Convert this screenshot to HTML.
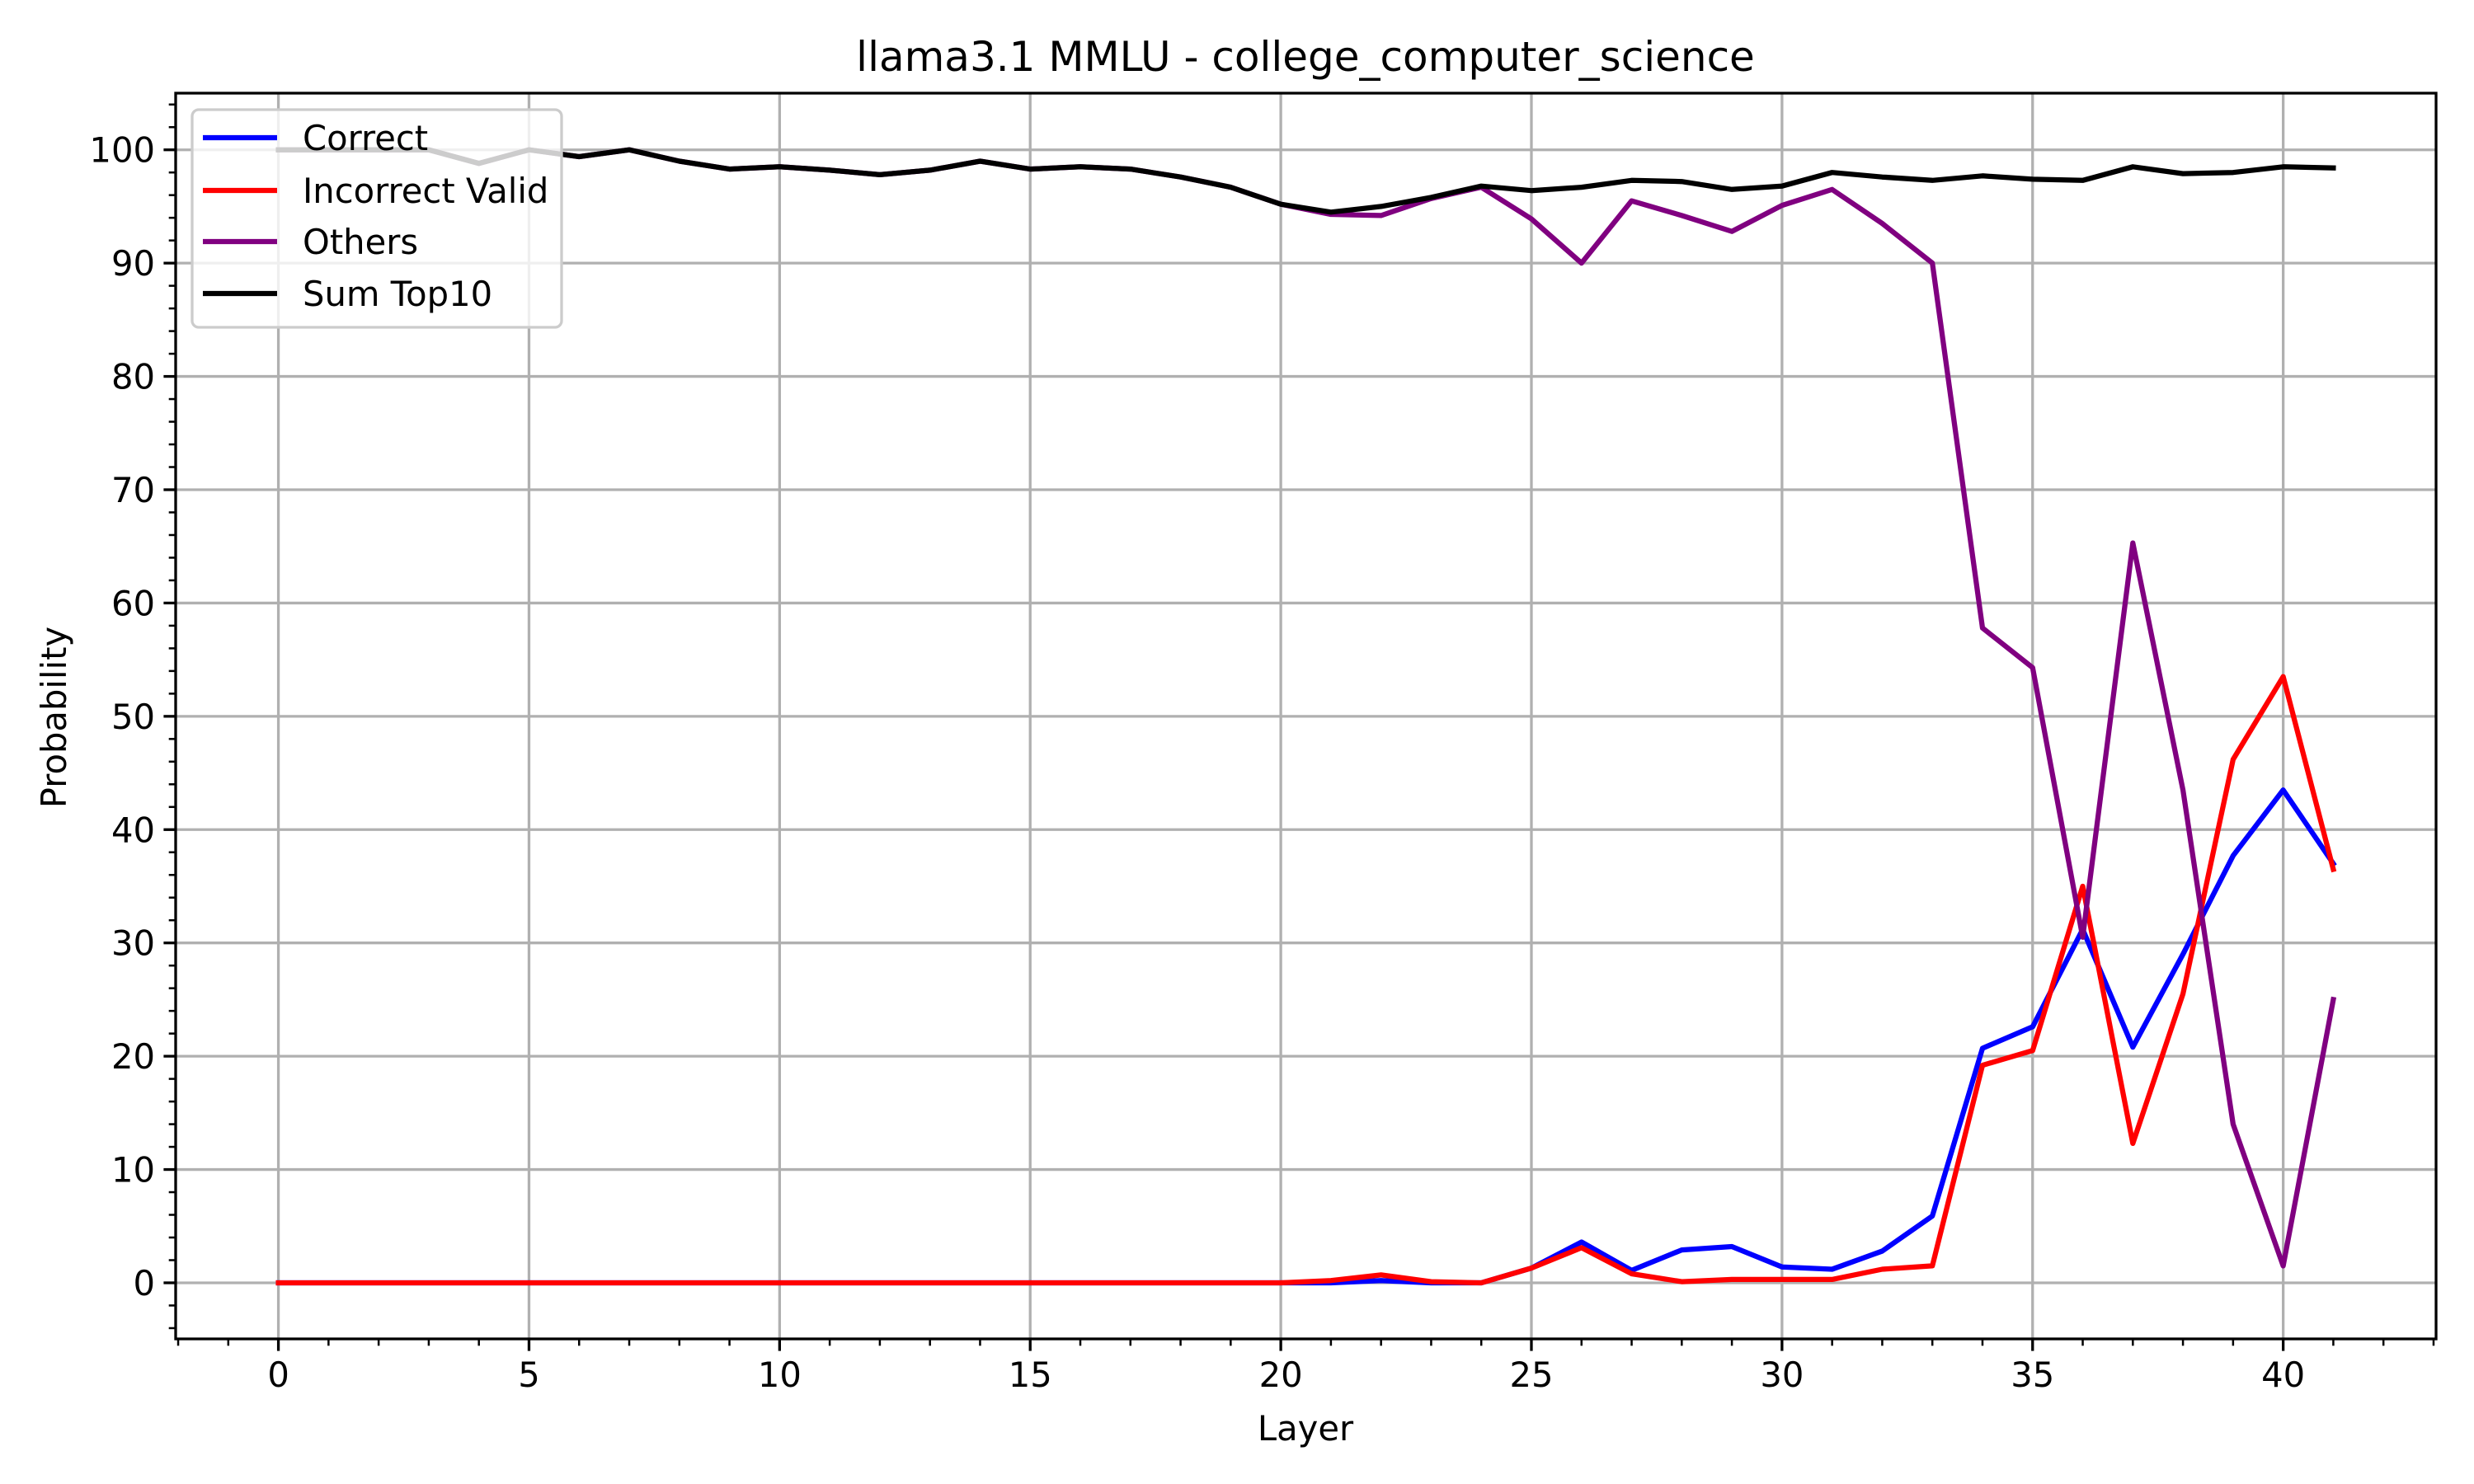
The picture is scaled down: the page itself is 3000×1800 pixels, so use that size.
<!DOCTYPE html>
<html><head><meta charset="utf-8"><style>
body{margin:0;background:#fff;}
svg{display:block;font-family:"DejaVu Sans","Liberation Sans",sans-serif;}
</style></head><body>
<svg id="chart" width="3000" height="1800" viewBox="0 0 3000 1800">
<rect width="3000" height="1800" fill="#fff"/>
<text x="1583" y="86" font-size="50" text-anchor="middle">llama3.1 MMLU - college_computer_science</text>
<g id="grid"></g><g id="series"></g><g id="axes"></g><g id="legend"></g>
<text x="1583" y="1747" font-size="41.7" text-anchor="middle">Layer</text>
<text x="0" y="0" font-size="41.7" text-anchor="middle" transform="translate(80,870) rotate(-90)">Probability</text>
</svg>
<script>
const layers=[];for(let i=0;i<=41;i++)layers.push(i);
const sumTop10=[100,100,100,100,98.8,100,99.4,100,99,98.3,98.5,98.2,97.8,98.2,99,98.3,98.5,98.3,97.6,96.7,95.2,94.5,95,95.8,96.8,96.4,96.7,97.3,97.2,96.5,96.8,98,97.6,97.3,97.7,97.4,97.3,98.5,97.9,98,98.5,98.4];
const others=[100,100,100,100,98.8,100,99.4,100,99,98.3,98.5,98.2,97.8,98.2,99,98.3,98.5,98.3,97.6,96.7,95.2,94.3,94.2,95.7,96.7,93.9,90,95.5,94.2,92.8,95.1,96.5,93.5,90,57.8,54.3,30.5,65.3,43.5,14,1.5,25];
const correct=[0,0,0,0,0,0,0,0,0,0,0,0,0,0,0,0,0,0,0,0,0,0,0.2,0,0,1.3,3.6,1.1,2.9,3.2,1.4,1.2,2.8,5.9,20.7,22.6,31.2,20.8,29,37.7,43.5,37];
const incorrect=[0,0,0,0,0,0,0,0,0,0,0,0,0,0,0,0,0,0,0,0,0,0.2,0.7,0.1,0,1.3,3.1,0.8,0.1,0.3,0.3,0.3,1.2,1.5,19.2,20.5,35,12.3,25.5,46.2,53.5,36.5];
const xTicks=[0,5,10,15,20,25,30,35,40];
const yTicks=[0,10,20,30,40,50,60,70,80,90,100];
const NS='http://www.w3.org/2000/svg';
const L=213,R=2954,T=113,B=1624,x0=-2.05,x1=43.05,y0=-4.95,y1=105;
const sx=v=>L+(v-x0)/(x1-x0)*(R-L), sy=v=>B-(v-y0)/(y1-y0)*(B-T);
function mk(tag,attrs,parent){const e=document.createElementNS(NS,tag);for(const k in attrs)e.setAttribute(k,attrs[k]);parent.appendChild(e);return e;}
const grid=document.getElementById('grid'),axes=document.getElementById('axes'),ser=document.getElementById('series'),leg=document.getElementById('legend');
xTicks.forEach(t=>{const x=sx(t);
 const g=mk('line',{x1:x,x2:x,y1:T,y2:B,stroke:'#b0b0b0','stroke-width':3.3},grid);
 
 mk('line',{x1:x,x2:x,y1:B,y2:B+14.6,stroke:'#000','stroke-width':3.3},axes);
 const tx=mk('text',{x:x,y:B+58,'font-size':41.7,'text-anchor':'middle'},axes);tx.textContent=t;
 });
yTicks.forEach(t=>{const y=sy(t);
 const g=mk('line',{x1:L,x2:R,y1:y,y2:y,stroke:'#b0b0b0','stroke-width':3.3},grid);
 
 mk('line',{x1:L-14.6,x2:L,y1:y,y2:y,stroke:'#000','stroke-width':3.3},axes);
 const tx=mk('text',{x:L-25,y:y+15,'font-size':41.7,'text-anchor':'end'},axes);tx.textContent=t;
 });
for(let v=-2;v<=43;v++){if(v%5===0)continue;const x=sx(v);mk('line',{x1:x,x2:x,y1:B,y2:B+8.3,stroke:'#000','stroke-width':2.5},axes);}
for(let v=-4;v<=104;v+=2){if(v%10===0)continue;const y=sy(v);mk('line',{x1:L-8.3,x2:L,y1:y,y2:y,stroke:'#000','stroke-width':2.5},axes);}
const fr=mk('rect',{x:L,y:T,width:R-L,height:B-T,fill:'none',stroke:'#000','stroke-width':3.3},axes);

const series=[[correct,'#0000ff','Correct','correct-line'],[incorrect,'#ff0000','Incorrect Valid','incorrect-valid-line'],[others,'#800080','Others','others-line'],[sumTop10,'#000000','Sum Top10','sum-top10-line']];
series.forEach(s=>{const d=s[0].map((v,i)=>(i?'L':'M')+sx(layers[i]).toFixed(1)+','+sy(v).toFixed(1)).join('');
 const p=mk('path',{d:d,fill:'none',stroke:s[1],'stroke-width':6.25,'stroke-linejoin':'round','stroke-linecap':'square'},ser);
 });
const box=mk('rect',{x:233,y:133,width:448,height:264,rx:8,fill:'#fff','fill-opacity':0.8,stroke:'#cccccc','stroke-width':3.3},leg);

const rows=[167,231,293,356];
series.forEach((s,i)=>{const g=mk('g',{},leg);
 
 mk('line',{x1:246,x2:336,y1:rows[i],y2:rows[i],stroke:s[1],'stroke-width':6.25},g);
 const t=mk('text',{x:367,y:rows[i]+15,'font-size':41.7},g);t.textContent=s[2];});
</script>
</body></html>
